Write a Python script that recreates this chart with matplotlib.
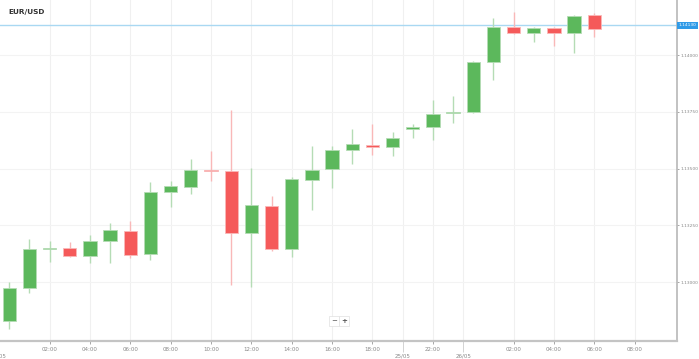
"""
EUR/USD 小時K線圖
"""
import numpy as np
import matplotlib
matplotlib.use('Agg')
import matplotlib.pyplot as plt
from matplotlib.transforms import blended_transform_factory

# 數據 (每根K線一小時)
opens = [1.12828, 1.12974, 1.13144, 1.13151, 1.13115, 1.13181, 1.13226, 1.13123,
         1.13395, 1.13420, 1.13493, 1.13489, 1.13217, 1.13335, 1.13145, 1.13449,
         1.13496, 1.13581, 1.13604, 1.13595, 1.13675, 1.13681, 1.13744, 1.13748,
         1.13969, 1.14123, 1.14097, 1.14119, 1.14097, 1.14176]
highs = [1.13001, 1.13189, 1.13182, 1.13175, 1.13208, 1.13261, 1.13270, 1.13439,
         1.13446, 1.13541, 1.13577, 1.13758, 1.13501, 1.13379, 1.13464, 1.13599,
         1.13599, 1.13673, 1.13696, 1.13659, 1.13697, 1.13800, 1.13821, 1.13975,
         1.14163, 1.14189, 1.14123, 1.14123, 1.14176, 1.14185]
lows = [1.12793, 1.12953, 1.13087, 1.13112, 1.13082, 1.13085, 1.13104, 1.13097,
        1.13332, 1.13386, 1.13445, 1.12987, 1.12979, 1.13137, 1.13111, 1.13317,
        1.13413, 1.13519, 1.13558, 1.13555, 1.13636, 1.13626, 1.13699, 1.13745,
        1.13890, 1.14093, 1.14057, 1.14040, 1.14009, 1.14081]
closes = [1.12972, 1.13144, 1.13151, 1.13115, 1.13181, 1.13229, 1.13120, 1.13395,
          1.13422, 1.13492, 1.13489, 1.13215, 1.13338, 1.13147, 1.13452, 1.13493,
          1.13583, 1.13608, 1.13595, 1.13636, 1.13681, 1.13741, 1.13750, 1.13969,
          1.14123, 1.14097, 1.14119, 1.14097, 1.14172, 1.14116]

hour_ticks = [2, 4, 6, 8, 10, 12, 14, 16, 18, 21, 25, 27, 29, 31]
hour_labels = ['02:00', '04:00', '06:00', '08:00', '10:00', '12:00', '14:00',
               '16:00', '18:00', '22:00', '02:00', '04:00', '06:00', '08:00']
day_ticks = [19.5, 22.5]
day_labels = ['25/05', '26/05']
price_ticks = [1.13000, 1.13250, 1.13500, 1.13750, 1.14000]
last_price = 1.14130

GREEN = '#5cb85c'
RED = '#f55a5a'
GREEN_WICK = '#b5dcb5'
RED_WICK = '#f9b8b8'

fig = plt.figure(figsize=(6.99, 3.59), dpi=100)
W, H = 699, 359
ax = fig.add_axes([0, 18 / H, 677 / W, 341 / H])

x = np.arange(len(opens))
o = np.array(opens)
c = np.array(closes)
up = c >= o
body_color = np.where(up, GREEN, RED)
wick_color = np.where(up, GREEN_WICK, RED_WICK)

# 網格
for t in hour_ticks + day_ticks:
    ax.axvline(t, color='#f0f0f0', lw=0.8, zorder=0)
for p in price_ticks:
    ax.axhline(p, color='#f3f3f3', lw=0.8, zorder=0)

# 影線與實體
ax.vlines(x, lows, highs, colors=wick_color, lw=1, zorder=2)
ax.bar(x, np.abs(c - o), bottom=np.minimum(o, c), width=0.66,
       color=body_color, edgecolor=wick_color, linewidth=0.6, zorder=3)

# 最新價格線
ax.axhline(last_price, color='#a9d8f2', lw=1, zorder=1)
ax.text(1.002, last_price, f'{last_price:.5f}',
        transform=blended_transform_factory(ax.transAxes, ax.transData),
        ha='left', va='center', fontsize=3.1, color='white',
        bbox=dict(boxstyle='square,pad=0.35', fc='#2f9be8', ec='none'), clip_on=False, zorder=5)

ax.set_xlim(-0.46, 33.1)
ax.set_ylim(1.127401, 1.142423)

ax.yaxis.tick_right()
ax.set_yticks(price_ticks)
ax.set_yticklabels([f'{p:.5f}' for p in price_ticks])
ax.tick_params(axis='y', length=1.5, width=0.6, colors='#999999', labelsize=3.2,
               labelcolor='#888888', pad=1)

ax.set_xticks(hour_ticks)
ax.set_xticklabels(hour_labels)
ax.set_xticks(day_ticks, minor=True)
ax.set_xticklabels(day_labels, minor=True)
ax.tick_params(axis='x', which='major', length=2, width=0.6, colors='#999999',
               labelsize=4.0, labelcolor='#888888', pad=2)
ax.tick_params(axis='x', which='minor', length=8, width=0.6, colors='#cccccc',
               labelsize=4.0, labelcolor='#888888', pad=1)
for tl in ax.xaxis.get_minorticklines():
    tl.set_linestyle((0, (1, 1)))

trans = blended_transform_factory(ax.transData, ax.transAxes)
ax.text(-0.55, -0.036, '24/05', transform=trans, ha='center', va='top',
        fontsize=4.0, color='#888888', clip_on=False)

for side in ['top', 'left']:
    ax.spines[side].set_visible(False)
ax.spines['bottom'].set_color('#c4c4c4')
ax.spines['bottom'].set_linewidth(1.6)
ax.spines['right'].set_color('#b8b8b8')
ax.spines['right'].set_linewidth(1.2)

# 標題
fig.text(8 / W, 1 - 12 / H, 'EUR/USD', ha='left', va='center',
         fontsize=5.3, fontweight='bold', color='#333333')

# 縮放按鈕
fig.text(334 / W, 1 - 321 / H, '−', ha='center', va='center', fontsize=5, color='#555555',
         bbox=dict(boxstyle='square,pad=0.3', fc='white', ec='#e0e0e0', lw=0.5))
fig.text(344 / W, 1 - 321 / H, '+', ha='center', va='center', fontsize=5, color='#555555',
         fontweight='bold', bbox=dict(boxstyle='square,pad=0.3', fc='white', ec='#e0e0e0', lw=0.5))

fig.savefig('out.png', dpi=100)
